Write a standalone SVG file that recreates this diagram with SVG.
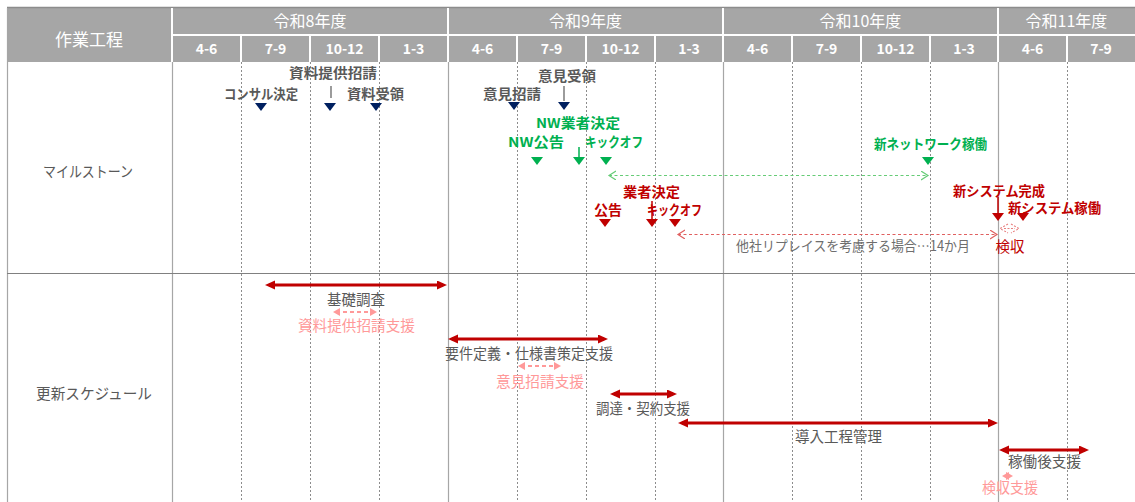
<svg xmlns="http://www.w3.org/2000/svg" width="1135" height="502" viewBox="0 0 1135 502">
<style>
text{font-family:"Noto Sans CJK JP","Noto Sans",sans-serif;dominant-baseline:central;text-anchor:middle}
.hd{fill:#fff;font-size:16px}
.q{fill:#fff;font-size:14px;font-weight:bold}
.lbl{fill:#595959;font-size:15px}
.ms{font-size:13.5px;font-weight:bold}
.gr{fill:#595959}
.gn{fill:#00B050}
.rd{fill:#C00000}
.tx{fill:#595959;font-size:14.5px}
.pk{fill:#FF9999;font-size:14.5px}
.sep{stroke:#fff;stroke-width:2}
.solid{stroke:#A6A6A6;stroke-width:1.2}
.dash{stroke:#8C8C8C;stroke-width:1;stroke-dasharray:2 2}
.navy{fill:#002060}
.bar{stroke:#C00000;stroke-width:3;marker-start:url(#ah);marker-end:url(#ah)}
.pbar{stroke:#FF9999;stroke-width:2;stroke-dasharray:4 3;marker-start:url(#ph);marker-end:url(#ph)}
.gdash{stroke:#66CC77;stroke-width:1.2;stroke-dasharray:3 2.5;fill:none;marker-start:url(#gh);marker-end:url(#gh)}
.rdash{stroke:#E06060;stroke-width:1.2;stroke-dasharray:3 2.5;fill:none;marker-start:url(#rh);marker-end:url(#rh)}
</style>
<defs>
<path id="tri" d="M-6,0 L6,0 L0,8 Z"/>
<marker id="ah" markerUnits="userSpaceOnUse" markerWidth="12" markerHeight="10" refX="6" refY="4.5" orient="auto-start-reverse"><path d="M0,0 L10,4.5 L0,9 Z" fill="#C00000"/></marker>
<marker id="ph" markerUnits="userSpaceOnUse" markerWidth="10" markerHeight="10" refX="4" refY="4" orient="auto-start-reverse"><path d="M0,0 L7,4 L0,8 Z" fill="#FF9999"/></marker>
<marker id="gh" markerUnits="userSpaceOnUse" markerWidth="10" markerHeight="10" refX="7" refY="4.5" orient="auto-start-reverse"><path d="M0,0 L7,4.5 L0,9" fill="none" stroke="#66CC77" stroke-width="1.2"/></marker>
<marker id="rh" markerUnits="userSpaceOnUse" markerWidth="10" markerHeight="10" refX="7" refY="4.5" orient="auto-start-reverse"><path d="M0,0 L7,4.5 L0,9" fill="none" stroke="#E06060" stroke-width="1.2"/></marker>
</defs>
<rect width="1135" height="502" fill="#fff"/>
<g id="header">
<rect x="7" y="8" width="1128" height="54" fill="#A6A6A6"/>
<line x1="7" y1="7.5" x2="1135" y2="7.5" stroke="#8C8C8C" stroke-width="1.5"/>
<line class="sep" x1="172" y1="35" x2="1135" y2="35"/>
<line class="sep" x1="172" y1="8" x2="172" y2="62"/>
<line class="sep" x1="448" y1="8" x2="448" y2="62"/>
<line class="sep" x1="723" y1="8" x2="723" y2="62"/>
<line class="sep" x1="998" y1="8" x2="998" y2="62"/>
<g class="sep">
<line x1="241" y1="35" x2="241" y2="62"/><line x1="310" y1="35" x2="310" y2="62"/><line x1="379" y1="35" x2="379" y2="62"/>
<line x1="517" y1="35" x2="517" y2="62"/><line x1="586" y1="35" x2="586" y2="62"/><line x1="655" y1="35" x2="655" y2="62"/>
<line x1="792" y1="35" x2="792" y2="62"/><line x1="861" y1="35" x2="861" y2="62"/><line x1="930" y1="35" x2="930" y2="62"/>
<line x1="1067" y1="35" x2="1067" y2="62"/>
</g>
<text class="hd" x="89" y="38" style="font-size:17px">作業工程</text>
<text class="hd" x="310" y="20">令和8年度</text>
<text class="hd" x="585.5" y="20">令和9年度</text>
<text class="hd" x="860.5" y="20">令和10年度</text>
<text class="hd" x="1066.5" y="20">令和11年度</text>
<text class="q" x="206.5" y="48">4-6</text><text class="q" x="275.5" y="48">7-9</text><text class="q" x="344.5" y="48">10-12</text><text class="q" x="413.5" y="48">1-3</text>
<text class="q" x="482.5" y="48">4-6</text><text class="q" x="551.5" y="48">7-9</text><text class="q" x="620.5" y="48">10-12</text><text class="q" x="689" y="48">1-3</text>
<text class="q" x="757.5" y="48">4-6</text><text class="q" x="826.5" y="48">7-9</text><text class="q" x="895.5" y="48">10-12</text><text class="q" x="964" y="48">1-3</text>
<text class="q" x="1032.5" y="48">4-6</text><text class="q" x="1101" y="48">7-9</text>
</g>
<g id="grid">
<line x1="7.5" y1="8" x2="7.5" y2="502" stroke="#A6A6A6" stroke-width="1.2"/>
<line class="solid" x1="172.5" y1="62" x2="172.5" y2="502"/>
<line class="solid" x1="448.5" y1="62" x2="448.5" y2="502"/>
<line class="solid" x1="723.5" y1="62" x2="723.5" y2="502"/>
<line class="solid" x1="998.5" y1="62" x2="998.5" y2="502"/>
<g class="dash">
<line x1="241.5" y1="62" x2="241.5" y2="502"/><line x1="310.5" y1="62" x2="310.5" y2="502"/><line x1="379.5" y1="62" x2="379.5" y2="502"/>
<line x1="517.5" y1="62" x2="517.5" y2="502"/><line x1="586.5" y1="62" x2="586.5" y2="502"/><line x1="655.5" y1="62" x2="655.5" y2="502"/>
<line x1="792.5" y1="62" x2="792.5" y2="502"/><line x1="861.5" y1="62" x2="861.5" y2="502"/><line x1="930.5" y1="62" x2="930.5" y2="502"/>
<line x1="1067.5" y1="62" x2="1067.5" y2="502"/>
</g>
<line x1="7" y1="273.5" x2="1135" y2="273.5" stroke="#808080" stroke-width="1.2"/>
<text class="lbl" x="88" y="170" textLength="90" lengthAdjust="spacingAndGlyphs">マイルストーン</text>
<text class="lbl" x="94" y="392" textLength="116" lengthAdjust="spacingAndGlyphs">更新スケジュール</text>
</g>
<g id="ms-consul"><text class="ms gr" x="261" y="93" textLength="74" lengthAdjust="spacingAndGlyphs">コンサル決定</text><use href="#tri" x="261" y="103" class="navy"/></g>
<g id="ms-shiryo-shosei"><text class="ms gr" x="333" y="72" textLength="88" lengthAdjust="spacingAndGlyphs">資料提供招請</text><use href="#tri" x="330" y="103" class="navy"/></g>
<g id="ms-shiryo-juryo"><text class="ms gr" x="375.5" y="93" textLength="57" lengthAdjust="spacingAndGlyphs">資料受領</text><use href="#tri" x="376" y="103" class="navy"/></g>
<g id="ms-iken-shosei"><text class="ms gr" x="512" y="93" textLength="58" lengthAdjust="spacingAndGlyphs">意見招請</text><use href="#tri" x="514" y="102" class="navy"/></g>
<g id="ms-iken-juryo"><text class="ms gr" x="567" y="75" textLength="58" lengthAdjust="spacingAndGlyphs">意見受領</text><use href="#tri" x="564" y="102" class="navy"/></g>
<g id="ms-nw-kokoku"><text class="ms gn" x="536" y="141" textLength="56" lengthAdjust="spacingAndGlyphs">NW公告</text><use href="#tri" x="537" y="157" class="gn"/></g>
<g id="ms-nw-kettei"><text class="ms gn" x="578" y="122" textLength="84" lengthAdjust="spacingAndGlyphs">NW業者決定</text><use href="#tri" x="579" y="157" class="gn"/></g>
<g id="ms-nw-kickoff"><text class="ms gn" x="614" y="141" textLength="58" lengthAdjust="spacingAndGlyphs">キックオフ</text><use href="#tri" x="606" y="157" class="gn"/></g>
<g id="ms-nw-kado"><text class="ms gn" x="930.5" y="143" textLength="113" lengthAdjust="spacingAndGlyphs">新ネットワーク稼働</text><use href="#tri" x="928" y="157" class="gn"/></g>
<g id="ms-kokoku"><text class="ms rd" x="608" y="208.5" textLength="28" lengthAdjust="spacingAndGlyphs">公告</text><use href="#tri" x="605" y="219" class="rd"/></g>
<g id="ms-kettei"><text class="ms rd" x="651.5" y="191" textLength="57" lengthAdjust="spacingAndGlyphs">業者決定</text><use href="#tri" x="652" y="219" class="rd"/></g>
<g id="ms-kickoff"><text class="ms rd" x="674.5" y="208.5" textLength="55" lengthAdjust="spacingAndGlyphs">キックオフ</text><use href="#tri" x="675" y="219" class="rd"/></g>
<g id="ms-kansei"><text class="ms rd" x="999" y="190" textLength="92" lengthAdjust="spacingAndGlyphs">新システム完成</text><use href="#tri" x="998" y="213" class="rd"/></g>
<g id="ms-kado"><text class="ms rd" x="1054.5" y="206.5" textLength="93" lengthAdjust="spacingAndGlyphs">新システム稼働</text><use href="#tri" x="1023" y="213" class="rd"/></g>
<g id="ms-kenshu"><text class="rd" x="1010" y="245" style="font-size:14.5px" textLength="29" lengthAdjust="spacingAndGlyphs">検収</text></g>
<g id="note-replace"><text x="853" y="245" style="font-size:14px;fill:#6E6E6E" textLength="234" lengthAdjust="spacingAndGlyphs">他社リプレイスを考慮する場合…14か月</text></g>
<g id="sc-kiso"><text class="tx" x="356" y="298" textLength="58" lengthAdjust="spacingAndGlyphs">基礎調査</text></g>
<g id="sc-shiryo"><text class="pk" x="356.5" y="324" textLength="117" lengthAdjust="spacingAndGlyphs">資料提供招請支援</text></g>
<g id="sc-yoken"><text class="tx" x="529" y="352" textLength="168" lengthAdjust="spacingAndGlyphs">要件定義・仕様書策定支援</text></g>
<g id="sc-iken"><text class="pk" x="540" y="380" textLength="88" lengthAdjust="spacingAndGlyphs">意見招請支援</text></g>
<g id="sc-chotatsu"><text class="tx" x="643" y="407" textLength="94" lengthAdjust="spacingAndGlyphs">調達・契約支援</text></g>
<g id="sc-donyu"><text class="tx" x="838.5" y="435" textLength="87" lengthAdjust="spacingAndGlyphs">導入工程管理</text></g>
<g id="sc-kadogo"><text class="tx" x="1044.5" y="460" textLength="73" lengthAdjust="spacingAndGlyphs">稼働後支援</text></g>
<g id="sc-kenshu"><text class="pk" x="1010" y="486" textLength="56" lengthAdjust="spacingAndGlyphs">検収支援</text></g>
<g id="connectors">
<line x1="331" y1="86" x2="331" y2="98" stroke="#595959" stroke-width="1.2"/>
<line x1="564" y1="86" x2="564" y2="101" stroke="#595959" stroke-width="1.2"/>
<line x1="579" y1="147" x2="579" y2="158" stroke="#00B050" stroke-width="1.5"/>
<line x1="652" y1="201" x2="652" y2="220" stroke="#C00000" stroke-width="1.5"/>
<line x1="998" y1="197" x2="998" y2="214" stroke="#C00000" stroke-width="1.5"/>
<line class="gdash" x1="609" y1="175.5" x2="928" y2="175.5"/>
<line class="rdash" x1="678" y1="234.5" x2="997" y2="234.5"/>
<path d="M1008,224 L1000,228.5 L1008,233 M1011,224 L1019,228.5 L1011,233 M1004,228.5 L1015,228.5" fill="none" stroke="#E88080" stroke-width="1.1" stroke-dasharray="2 1.5"/>
<line class="bar" x1="269" y1="285" x2="443" y2="285"/>
<line class="pbar" x1="336" y1="312" x2="374" y2="312"/>
<line class="bar" x1="452" y1="339" x2="604" y2="339"/>
<line class="pbar" x1="521" y1="366" x2="558" y2="366"/>
<line class="bar" x1="614" y1="394" x2="673" y2="394"/>
<line class="bar" x1="682" y1="423" x2="994" y2="423"/>
<line class="bar" x1="1003" y1="450" x2="1085" y2="450"/>
<line class="pbar" x1="1005" y1="476" x2="1010" y2="476"/>
</g>
</svg>
